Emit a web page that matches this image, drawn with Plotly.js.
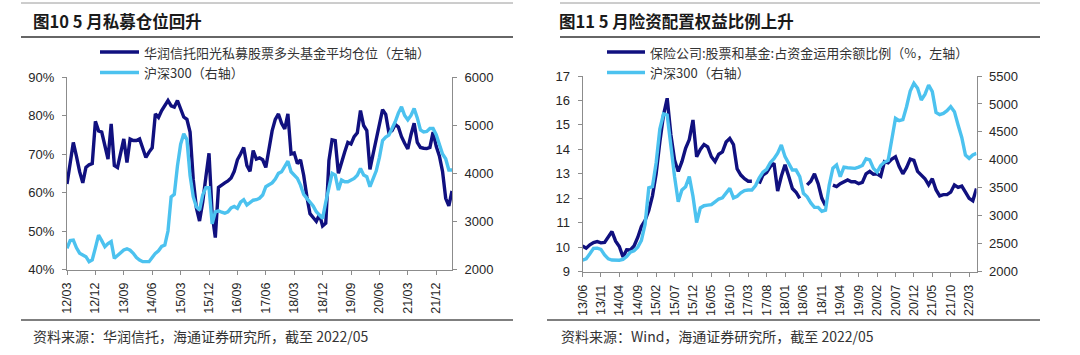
<!DOCTYPE html>
<html><head><meta charset="utf-8">
<script src="https://cdn.plot.ly/plotly-3.0.1.min.js"></script>
<style>html,body{margin:0;padding:0;background:#fff;}#chart{width:1080px;height:355px;}</style>
</head><body><div id="chart"></div>
<script>
// ---------- DATA ----------
// Left chart: monthly, 2012/03 .. 2022/05
const leftStartYear = 2012, leftStartMonth = 3;
const leftPosition = [62.2,67.6,73,69.4,65.4,62.5,66.5,67.2,67.5,78.5,76,75.7,72,68.7,77.8,67,66.5,70.5,73.9,67.8,
73.9,73.5,73.5,73.9,71.5,69.1,70.5,71.6,80.4,79.5,81.3,82.5,83.9,82.5,82.2,83.9,81.5,79.6,79,75.7,
63.4,56,52.6,57.5,64,70.2,54.4,48.3,61.3,62,62.5,63,63.8,65.5,68.5,70,71.7,67,65.5,70.9,
68.7,69,68.5,66.5,72,76,79,80.4,78,76.5,80.4,70,70.3,67.5,68.5,64.5,59,54.5,53.5,52.5,
54.3,51.3,52,68.3,73.7,73.5,65,68,70.5,73,72.6,74.5,75.5,81.3,77.4,76.1,66,70,74,77,
81.5,80.3,75.5,76.1,77.7,77,74.5,72.8,71.3,75,78,73,71.7,71.5,71.4,71.7,75.7,72,69.5,65.5,
58.5,56.5,60.4];
const leftCsi300 = [2440,2600,2610,2450,2340,2300,2267,2162,2200,2450,2716,2600,2474,2540,2580,2232,2290,2340,2405,2430,
2400,2336,2250,2198,2163,2163,2163,2250,2336,2390,2480,2509,2800,3510,3560,4150,4600,4820,4700,3950,
3512,3300,3235,3550,3700,3700,2950,3200,3220,3190,3170,3200,3280,3310,3270,3400,3450,3340,3400,3440,
3450,3480,3547,3720,3760,3800,3880,3997,4031,4150,4250,4031,3950,3893,3754,3560,3478,3400,3320,3200,
3120,3061,3400,3700,3997,3962,3650,3858,3823,3823,3860,3893,3960,4100,3962,3928,3720,3900,4050,4330,
4680,4750,4793,4931,5068,5250,5380,5200,5110,5200,5345,5150,4900,4860,4870,4931,4931,4800,4600,4400,
4300,4066,4066];
const leftTickLabels = ['12/03','12/12','13/09','14/06','15/03','15/12','16/09','17/06','18/03','18/12','19/09','20/06','21/03','21/12'];

// Right chart: monthly, 2013/06 .. 2022/05
const rightStartYear = 2013, rightStartMonth = 6;
const rightInsurance = [10.05,9.96,10.1,10.19,10.23,10.18,10.2,10.45,10.64,10.25,10.03,9.6,9.9,9.89,10.05,10.4,10.85,11.1,11.5,12.1,
13,14.3,15.4,16.09,14.6,13.57,13.1,13.5,14.04,14.4,15.2,13.7,14,14.2,14.1,13.7,13.5,13.8,13.9,14.3,
14.45,14.2,13.2,12.95,12.8,12.7,12.7,null,12.6,12.95,13.05,13.3,13.43,12.3,12.9,13.37,12.9,12.4,12.25,12,
null,12.55,12.7,13,12.6,12,11.7,null,12.54,12.48,12.6,12.68,12.75,12.68,12.68,12.6,12.65,13,13.1,12.98,
13,12.9,13.5,13.45,13.6,13.7,13.3,13,13.25,13.6,13.55,13.1,12.95,12.8,12.55,12.8,12.35,12.1,12.15,12.15,
12.25,12.55,12.45,12.5,12.25,12,11.9,12.4];
const rightCsi300 = [2209,2230,2320,2417,2420,2400,2300,2230,2209,2200,2205,2220,2270,2350,2375,2440,2560,2850,3500,3520,
3950,4550,4820,4800,4236,3700,3250,3460,3520,3700,3350,2880,3140,3180,3190,3200,3250,3300,3320,3400,
3490,3320,3350,3410,3450,3460,3460,3540,3680,3780,3830,3950,4020,4120,4266,4057,3950,3818,3818,3700,
3401,3340,3230,3150,3150,3080,3100,3550,3850,3908,3700,3870,3860,3850,3848,3870,3900,4020,4000,3848,
3780,3900,3960,3990,4350,4743,4700,4720,4950,5230,5369,5280,5071,5170,5339,5220,4850,4810,4832,4880,
4951,4862,4624,4400,4087,4027,4087,4117];
const rightTickLabels = ['13/06','13/11','14/04','14/09','15/02','15/07','15/12','16/05','16/10','17/03','17/08','18/01','18/06','18/11','19/04','19/09','20/02','20/07','20/12','21/05','21/10','22/03'];

const leftNames = ['华润信托阳光私募股票多头基金平均仓位（左轴）','沪深300（右轴）'];
const rightNames = ['保险公司:股票和基金:占资金运用余额比例（%，左轴）','沪深300（右轴）'];
const titles = ['图10 5 月私募仓位回升','图11 5 月险资配置权益比例上升'];
const sources = ['资料来源：华润信托，海通证券研究所，截至 2022/05','资料来源：Wind，海通证券研究所，截至 2022/05'];

// ---------- helpers ----------
function monthLabels(y, m, n){
  const out=[];
  for(let k=0;k<n;k++){
    out.push(String(y%100).padStart(2,'0')+'/'+String(m).padStart(2,'0'));
    m++; if(m>12){m=1;y++;}
  }
  return out;
}
const W=1080,H=355;
const px=x=>x/W, py=y=>1-y/H;

const DARK='#10107f', LIGHT='#4cc2ef', AX='#8c8c8c', TXT='#262626';
const CJK='"Noto Sans CJK SC", "Noto Sans", sans-serif';
const LAT='"Liberation Sans", Arial, sans-serif';

const leftX = monthLabels(leftStartYear,leftStartMonth,leftPosition.length);
const rightX = monthLabels(rightStartYear,rightStartMonth,rightInsurance.length);

const LW=3.4;
const traces=[
  {x:leftX,y:leftPosition,xaxis:'x',yaxis:'y',type:'scatter',mode:'lines',name:leftNames[0],line:{color:DARK,width:LW},showlegend:false,hoverinfo:'skip'},
  {x:leftX,y:leftCsi300,xaxis:'x',yaxis:'y2',type:'scatter',mode:'lines',name:leftNames[1],line:{color:LIGHT,width:LW},showlegend:false,hoverinfo:'skip'},
  {x:rightX,y:rightInsurance,xaxis:'x2',yaxis:'y3',type:'scatter',mode:'lines',name:rightNames[0],line:{color:DARK,width:LW},connectgaps:false,showlegend:false,hoverinfo:'skip'},
  {x:rightX,y:rightCsi300,xaxis:'x2',yaxis:'y4',type:'scatter',mode:'lines',name:rightNames[1],line:{color:LIGHT,width:LW},showlegend:false,hoverinfo:'skip'}
];

function xAxis(dom, anchor, n, ticks){
  return {domain:dom,anchor:anchor,type:'category',range:[0,n-1],tickmode:'array',tickvals:ticks,ticktext:ticks,
    tickangle:-90,ticks:'outside',ticklen:4,tickcolor:AX,showline:true,linecolor:AX,linewidth:1,
    showgrid:false,zeroline:false,tickfont:{family:LAT,size:12.5,color:TXT},ticklabelstandoff:3,fixedrange:true};
}
function yAxis(dom, anchor, range, dtick, extra){
  return Object.assign({domain:dom,anchor:anchor,range:range,dtick:dtick,tick0:range[0],ticks:'outside',ticklen:4,tickcolor:AX,
    showline:true,linecolor:AX,linewidth:1,showgrid:false,zeroline:false,
    tickfont:{family:LAT,size:13,color:TXT},ticklabelstandoff:5,fixedrange:true},extra||{});
}
const Ldom=[px(67),px(452)], Lydom=[py(269.5),py(77)];
const Rdom=[px(582.5),px(976.5)], Rydom=[py(271.7),py(76)];

const shapes=[], annotations=[];
function hline(x0,x1,y,color,w){shapes.push({type:'line',xref:'paper',yref:'paper',x0:px(x0),x1:px(x1),y0:py(y),y1:py(y),line:{color:color,width:w}});}
hline(21,513,3,'#9a9a9a',1); hline(21,513,37,'#333',1.5); hline(21,513,320,'#555',1.5);
hline(560,1040,3,'#9a9a9a',1); hline(560,1040,37,'#333',1.5); hline(547,1040,320,'#555',1.5);

function text(t,x,y,size,opts){
  annotations.push(Object.assign({text:t,xref:'paper',yref:'paper',x:px(x),y:py(y),xanchor:'left',yanchor:'middle',showarrow:false,
    font:{family:CJK,size:size,color:'#1a1a1a'}},opts||{}));
}
text('<b>'+titles[0]+'</b>',31,21,16.5);
text('<b>'+titles[1]+'</b>',557,21,16.5);
text(sources[0],31,336,14,{font:{family:CJK,size:14,color:'#333'}});
text(sources[1],559,336,14,{font:{family:CJK,size:14,color:'#333'}});

function legendItem(x0,x1,y,color,label){
  shapes.push({type:'line',xref:'paper',yref:'paper',x0:px(x0),x1:px(x1),y0:py(y),y1:py(y),line:{color:color,width:3.5}});
  text(label,x1+3,y,13,{font:{family:CJK,size:13,color:'#333'}});
}
legendItem(100,139,52,DARK,leftNames[0]);
legendItem(100,139,72.5,LIGHT,leftNames[1]);
legendItem(607,645,52,DARK,rightNames[0]);
legendItem(607,645,72.5,LIGHT,rightNames[1]);

const layout={
  width:W,height:H,margin:{l:0,r:0,t:0,b:0},paper_bgcolor:'#fff',plot_bgcolor:'rgba(0,0,0,0)',showlegend:false,
  xaxis:xAxis(Ldom,'y',leftX.length,leftTickLabels),
  yaxis:yAxis(Lydom,'x',[40,90],10,{ticksuffix:'%'}),
  yaxis2:yAxis(Lydom,'x',[2000,6000],1000,{overlaying:'y',side:'right'}),
  xaxis2:xAxis(Rdom,'y3',rightX.length,rightTickLabels),
  yaxis3:yAxis(Rydom,'x2',[9,17],1),
  yaxis4:yAxis(Rydom,'x2',[2000,5500],500,{overlaying:'y3',side:'right'}),
  shapes:shapes,annotations:annotations
};
Plotly.newPlot('chart',traces,layout,{staticPlot:true,displayModeBar:false});
</script></body></html>
